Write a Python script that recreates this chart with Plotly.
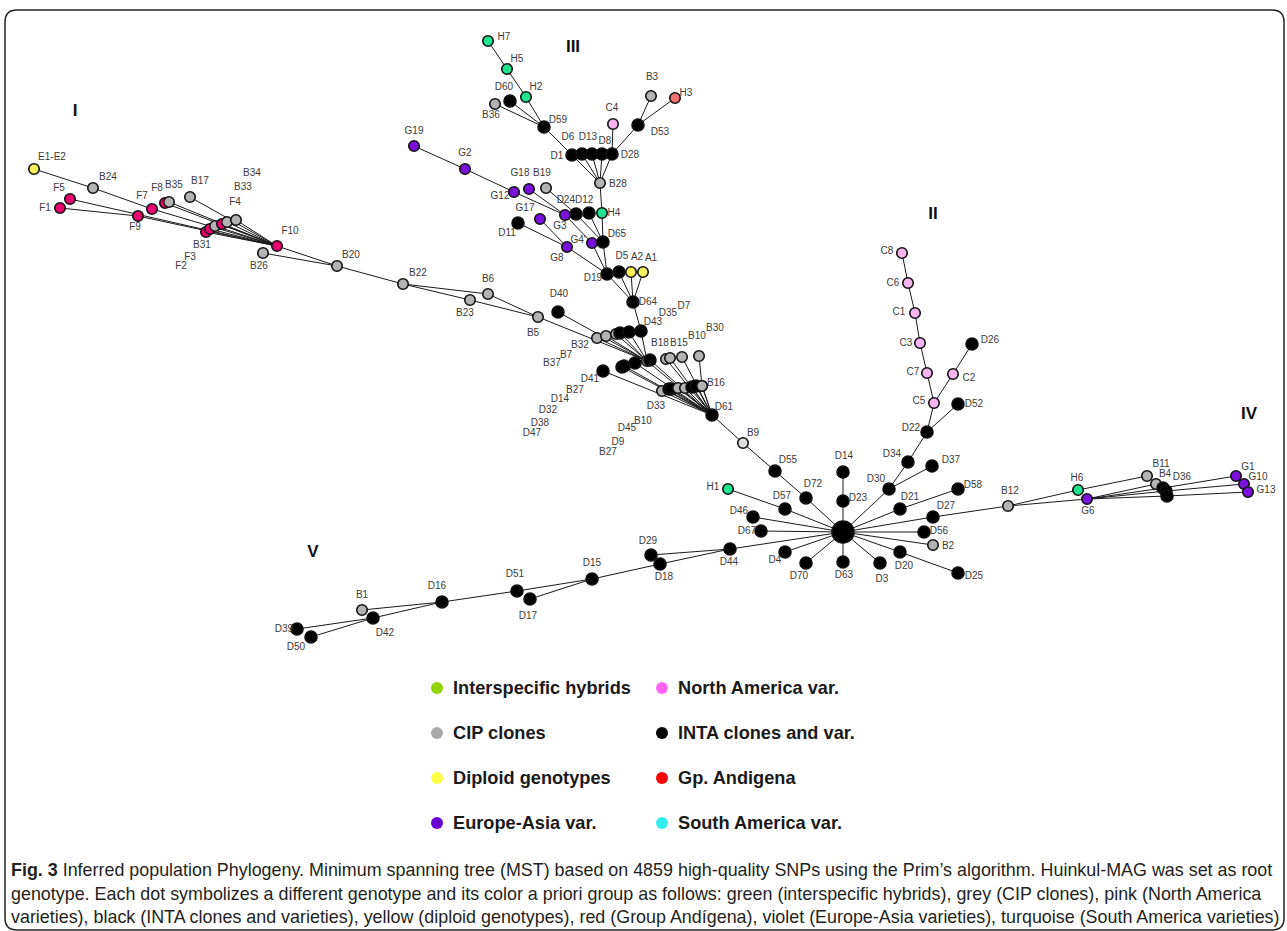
import plotly.graph_objects as go

# ---- genotype nodes: id, layout position (tree layout units), a priori group ----
node_id = [
    # group I
    "E1-E2", "B24", "F5", "F1", "F9", "F7", "F8", "B35", "B17",
    "F2", "F3", "B31", "F4", "B33", "B34", "F10", "B26",
    "B20", "B22", "B23", "B6", "B5", "D40",
    # central trunk
    "B32", "B7", "B37", "D7", "D35", "D43", "B18", "B18b",
    "B15", "B15b", "B10", "B30", "D41", "D14b", "D32", "D38",
    "D33", "D47", "D45", "D9", "B27", "B10b", "D2", "B27b", "B16",
    "D61", "B9", "D55", "D72",
    # root and spokes
    "Huinkul-MAG", "D14", "D23", "H1", "D57", "D46", "D67", "D44", "D4", "D70",
    "D63", "D3", "D20", "D25", "B2", "D56", "D27", "D21", "D58", "D30",
    "D37", "D34", "D22", "D52",
    # group II
    "C5", "C7", "C3", "C1", "C6", "C8", "C2", "D26",
    # group IV
    "B12", "H6", "G6", "B11", "B4", "D36", "D36b", "D36c", "G1", "G10", "G13",
    # group V
    "D29", "D18", "D15", "D51", "D17", "D16", "B1", "D42", "D39", "D50",
    # group III
    "H7", "H5", "H2", "D60", "B36", "D59", "G19", "G2", "G18", "B19", "G12",
    "D1", "D6", "D13", "D8", "D28", "C4", "B3", "H3", "D53", "B28",
    "G3", "D24", "D12", "H4", "G17", "D11", "G4", "D65", "G8",
    "D19", "D5", "A2", "A1", "D64",
]
node_x = [
    34, 93, 70, 60, 138, 152, 165, 169, 190,
    206, 210, 215, 222, 227, 236, 277, 263,
    337, 403, 470, 488, 538, 558,
    597, 606, 616, 620, 629, 641, 647, 650,
    666, 670, 682, 699, 603, 622, 624, 635,
    662, 669, 671, 678, 685, 692, 696, 702, 702,
    712, 743, 775, 806,
    843, 843, 843, 728, 785, 753, 761, 730, 785, 806,
    843, 880, 900, 958, 933, 924, 933, 900, 958, 889,
    932, 908, 927, 958,
    934, 927, 920, 915, 908, 902, 953, 972,
    1008, 1078, 1087, 1147, 1156, 1163, 1166, 1167, 1236, 1244, 1248,
    651, 660, 592, 517, 530, 442, 362, 373, 297, 311,
    488, 507, 526, 510, 495, 544, 414, 465, 529, 546, 514,
    572, 582, 592, 602, 612, 613, 651, 675, 638, 600,
    565, 576, 589, 602, 540, 518, 592, 603, 567,
    607, 619, 631, 643, 633,
]
node_y = [
    169, 188, 199, 208, 216, 209, 203, 202, 197,
    232, 229, 226, 224, 222, 220, 246, 253,
    266, 284, 300, 294, 317, 312,
    338, 336, 334, 333, 332, 331, 361, 360,
    359, 358, 357, 356, 371, 367, 366, 363,
    391, 389, 389, 388, 388, 387, 386, 386, 386,
    415, 443, 471, 498,
    532, 472, 501, 489, 509, 517, 531, 549, 552, 563,
    562, 563, 552, 573, 545, 532, 517, 509, 489, 489,
    466, 462, 432, 404,
    403, 373, 343, 313, 283, 253, 374, 344,
    506, 490, 499, 476, 484, 488, 491, 496, 476, 484, 492,
    555, 564, 579, 591, 599, 602, 610, 618, 629, 637,
    41, 69, 97, 101, 104, 127, 146, 169, 189, 188, 192,
    155, 154, 154, 154, 154, 124, 96, 98, 125, 183,
    215, 214, 213, 213, 219, 223, 243, 242, 247,
    274, 272, 272, 272, 302,
]
node_group = [
    "Diploid", "CIP", "Andigena", "Andigena", "Andigena", "Andigena", "Andigena", "CIP", "CIP",
    "Andigena", "Andigena", "CIP", "Andigena", "CIP", "CIP", "Andigena", "CIP",
    "CIP", "CIP", "CIP", "CIP", "CIP", "INTA",
    "CIP", "CIP", "CIP", "INTA", "INTA", "INTA", "CIP", "INTA",
    "CIP", "CIP", "CIP", "CIP", "INTA", "INTA", "INTA", "INTA",
    "CIP", "INTA", "INTA", "CIP", "CIP", "INTA", "INTA", "CIP", "CIP",
    "INTA", "CIPlight", "INTA", "INTA",
    "Root", "INTA", "INTA", "Hybrid", "INTA", "INTA", "INTA", "INTA", "INTA", "INTA",
    "INTA", "INTA", "INTA", "INTA", "CIP", "INTA", "INTA", "INTA", "INTA", "INTA",
    "INTA", "INTA", "INTA", "INTA",
    "NorthAm", "NorthAm", "NorthAm", "NorthAm", "NorthAm", "NorthAm", "NorthAm", "INTA",
    "CIP", "Hybrid", "EuropeAsia", "CIP", "CIP", "INTA", "INTA", "INTA", "EuropeAsia", "EuropeAsia", "EuropeAsia",
    "INTA", "INTA", "INTA", "INTA", "INTA", "INTA", "CIP", "INTA", "INTA", "INTA",
    "Hybrid", "Hybrid", "Hybrid", "INTA", "CIP", "INTA", "EuropeAsia", "EuropeAsia", "EuropeAsia", "CIP", "EuropeAsia",
    "INTA", "INTA", "INTA", "INTA", "INTA", "NorthAm", "CIP", "Salmon", "INTA", "CIP",
    "EuropeAsia", "INTA", "INTA", "Hybrid", "EuropeAsia", "INTA", "EuropeAsia", "INTA", "EuropeAsia",
    "INTA", "INTA", "Diploid", "Diploid", "INTA",
]

# ---- MST edges ----
edges = [
    ("E1-E2", "B24"), ("B24", "F7"), ("F7", "F10"), ("F5", "F10"), ("F1", "F9"), ("F9", "F10"),
    ("F8", "F10"), ("B35", "F10"), ("B17", "F10"), ("F2", "F10"), ("F3", "F10"), ("B31", "F10"),
    ("F4", "F10"), ("B33", "F10"), ("B34", "F10"), ("F10", "B20"), ("B26", "B20"),
    ("B20", "B22"), ("B22", "B23"), ("B22", "B6"), ("B23", "B5"), ("B6", "B5"), ("B5", "B18"),
    ("B32", "B18"), ("B7", "B18"), ("B37", "B18"), ("D7", "B18"), ("D35", "B18"), ("D43", "B18"),
    ("D40", "B18"), ("D64", "D43"),
    ("B18", "D61"), ("B18b", "D61"), ("B15", "D61"), ("B15b", "D61"), ("B10", "D61"), ("B30", "B16"),
    ("D41", "D61"), ("D14b", "D61"), ("D32", "D61"), ("D38", "D61"),
    ("D33", "D61"), ("D47", "D61"), ("D45", "D61"), ("D9", "D61"), ("B27", "D61"),
    ("B10b", "D61"), ("D2", "D61"), ("B27b", "D61"), ("B16", "D61"),
    ("D61", "B9"), ("B9", "D55"), ("D55", "D72"), ("D72", "Huinkul-MAG"),
    ("D14", "D23"), ("D23", "Huinkul-MAG"), ("H1", "D57"), ("D57", "Huinkul-MAG"),
    ("D46", "Huinkul-MAG"), ("D67", "Huinkul-MAG"), ("D44", "Huinkul-MAG"), ("D4", "Huinkul-MAG"),
    ("D70", "Huinkul-MAG"), ("D63", "Huinkul-MAG"), ("D3", "Huinkul-MAG"), ("D20", "Huinkul-MAG"),
    ("D20", "D25"), ("B2", "Huinkul-MAG"), ("D56", "Huinkul-MAG"), ("D27", "Huinkul-MAG"),
    ("D27", "B12"), ("D21", "Huinkul-MAG"), ("D21", "D58"), ("D30", "Huinkul-MAG"),
    ("D30", "D34"), ("D30", "D37"), ("D34", "D22"), ("D22", "D52"), ("D22", "C5"),
    ("C5", "C7"), ("C7", "C3"), ("C3", "C1"), ("C1", "C6"), ("C6", "C8"), ("C5", "C2"), ("C2", "D26"),
    ("B12", "H6"), ("B12", "G6"), ("H6", "B11"), ("G6", "B4"), ("G6", "D36"), ("G6", "D36b"),
    ("G6", "D36c"), ("D36", "G1"), ("D36b", "G10"), ("D36c", "G13"),
    ("D44", "D29"), ("D44", "D18"), ("D18", "D15"), ("D15", "D51"), ("D15", "D17"),
    ("D51", "D16"), ("D16", "B1"), ("D16", "D42"), ("D42", "D39"), ("D42", "D50"),
    ("D64", "D19"), ("D64", "D5"), ("D64", "A2"), ("D64", "A1"),
    ("D19", "G4"), ("D19", "D65"), ("D19", "G8"), ("G4", "G3"), ("G3", "G12"), ("G12", "G2"),
    ("G2", "G19"), ("G3", "G18"), ("B19", "D24"), ("D24", "D65"), ("D12", "D65"), ("H4", "D65"),
    ("H4", "B28"), ("G8", "D11"), ("G8", "G17"),
    ("B28", "D1"), ("B28", "D6"), ("B28", "D13"), ("B28", "D8"), ("B28", "D28"),
    ("D1", "D59"), ("D59", "H2"), ("H2", "H5"), ("H5", "H7"), ("D59", "D60"), ("D59", "B36"),
    ("D28", "C4"), ("D28", "D53"), ("D53", "B3"), ("D53", "H3"),
]

# ---- node labels (text, anchor position in layout units) ----
label_text = [
    "E1-E2", "B24", "F5", "F1", "F9", "F7", "F8", "B35", "B17", "B34", "B33", "F4",
    "B31", "F3", "F2", "F10", "B26", "B20", "B22", "B23", "B6", "B5", "D40",
    "B32", "B7", "B37", "D41", "B27", "D14", "D32", "D38", "D47",
    "D43", "D35", "D7", "B18", "B15", "B10", "B30", "B16", "D33", "D61",
    "D45", "B10", "D9", "B27", "B9", "D55", "D72",
    "D14", "D23", "H1", "D57", "D46", "D67", "D44", "D4", "D70", "D63", "D3",
    "D20", "D25", "B2", "D56", "D27", "D21", "D58", "D30", "D37", "D34", "D22", "D52",
    "C8", "C6", "C1", "C3", "C7", "C5", "C2", "D26",
    "B12", "H6", "G6", "B11", "B4", "D36", "G1", "G10", "G13",
    "D29", "D18", "D15", "D51", "D17", "D16", "B1", "D42", "D39", "D50",
    "H7", "H5", "H2", "D60", "B36", "D59", "G19", "G2", "G18", "B19", "G12",
    "D1", "D6", "D13", "D8", "D28", "C4", "B3", "H3", "D53", "B28",
    "D24D12", "H4", "G17", "G3", "D11", "G4'", "D65", "G8", "D19", "D5", "A2", "A1", "D64",
]
label_x = [
    52, 108, 59, 45, 135, 142, 157, 174, 200, 252, 243, 235,
    202, 190, 181, 290, 259, 351, 418, 465, 488, 533, 559,
    580, 566, 552, 590, 575, 560, 548, 540, 532,
    653, 668, 684, 660, 679, 697, 715, 716, 656, 724,
    627, 643, 618, 608, 753, 788, 813,
    844, 858, 713, 782, 739, 747, 729, 775, 799, 844, 882,
    904, 974, 948, 939, 946, 910, 973, 876, 951, 892, 911, 974,
    887, 893, 899, 906, 913, 919, 969, 990,
    1010, 1077, 1088, 1161, 1165, 1182, 1248, 1258, 1266,
    648, 664, 592, 515, 528, 437, 362, 385, 284, 296,
    504, 517, 536, 504, 491, 558, 414, 465, 520, 542, 500,
    557, 568, 588, 605, 630, 612, 652, 686, 660, 618,
    575, 614, 525, 560, 507, 578, 617, 557, 593, 622, 637, 651, 648,
]
label_y = [
    157, 177, 188, 208, 227, 196, 188, 185, 181, 173, 187, 202,
    245, 257, 266, 231, 266, 255, 273, 313, 279, 333, 294,
    345, 355, 363, 379, 390, 399, 410, 423, 433,
    322, 313, 306, 343, 343, 336, 328, 383, 406, 407,
    428, 421, 442, 452, 433, 460, 484,
    456, 498, 487, 496, 511, 531, 562, 560, 576, 575, 579,
    566, 576, 546, 531, 506, 497, 485, 479, 460, 454, 428, 404,
    251, 283, 312, 343, 372, 401, 378, 340,
    491, 478, 511, 464, 474, 477, 467, 477, 490,
    541, 577, 563, 574, 616, 586, 595, 633, 629, 647,
    37, 59, 87, 87, 115, 120, 131, 153, 173, 173, 196,
    156, 137, 137, 141, 155, 108, 77, 93, 132, 184,
    200, 213, 208, 226, 233, 240, 234, 258, 278, 256, 257, 258, 302,
]

# ---- cluster numerals ----
cluster_text = ["I", "II", "III", "IV", "V"]
cluster_x = [75, 933, 573, 1249, 313]
cluster_y = [112, 215, 48, 415, 553]

# ---- legend ----
legend_text = [
    "Interspecific hybrids", "North America var.",
    "CIP clones", "INTA clones and var.",
    "Diploid genotypes", "Gp. Andigena",
    "Europe-Asia var.", "South America var.",
]
legend_color = [
    "#8fd400", "#ff66f2",
    "#aaaaaa", "#000000",
    "#ffff44", "#ff0000",
    "#6a00d0", "#33eeee",
]

caption_lines = [
    "<b>Fig. 3</b> Inferred population Phylogeny. Minimum spanning tree (MST) based on 4859 high-quality SNPs using the Prim\u2019s algorithm. Huinkul-MAG was set as root",
    "genotype. Each dot symbolizes a different genotype and its color a priori group as follows: green (interspecific hybrids), grey (CIP clones), pink (North America",
    "varieties), black (INTA clones and varieties), yellow (diploid genotypes), red (Group And\u00edgena), violet (Europe-Asia varieties), turquoise (South America varieties)",
]

# ---- styling ----
group_fill = {
    "Hybrid": "#1fe38f", "CIP": "#b3b3b3", "CIPlight": "#dedede", "NorthAm": "#f6b4f0",
    "INTA": "#000000", "Root": "#000000", "Diploid": "#f7f05c", "Andigena": "#e8006e",
    "EuropeAsia": "#7a10dc", "Salmon": "#f27272",
}
group_size = {"INTA": 12, "Root": 22}

pos = {n: (x, y) for n, x, y in zip(node_id, node_x, node_y)}

W, H = 1287, 931
fig = go.Figure()

ex, ey = [], []
for a, b in edges:
    ex += [pos[a][0], pos[b][0], None]
    ey += [pos[a][1], pos[b][1], None]
fig.add_trace(go.Scatter(x=ex, y=ey, mode="lines", line=dict(color="#1a1a1a", width=1),
                         hoverinfo="skip", showlegend=False))

fig.add_trace(go.Scatter(
    x=node_x, y=node_y, mode="markers", text=node_id, hoverinfo="text", showlegend=False,
    marker=dict(color=[group_fill[g] for g in node_group],
                size=[group_size.get(g, 10.5) for g in node_group],
                opacity=1,
                line=dict(color="#111111", width=1.6)),
))

fig.add_trace(go.Scatter(
    x=label_x, y=label_y, mode="text", text=label_text, hoverinfo="skip", showlegend=False,
    textfont=dict(family="Liberation Sans, Arial, sans-serif", size=10, color="#3a3a3a"),
))

fig.add_trace(go.Scatter(
    x=cluster_x, y=cluster_y, mode="text", text=[f"<b>{t}</b>" for t in cluster_text],
    hoverinfo="skip", showlegend=False,
    textfont=dict(family="Liberation Sans, Arial, sans-serif", size=17, color="#111111"),
))

# legend block: two columns, four rows
leg_col_x = [437, 662]
leg_row_y = [688, 733, 778, 823]
lx = [leg_col_x[i % 2] for i in range(len(legend_text))]
ly = [leg_row_y[i // 2] for i in range(len(legend_text))]
fig.add_trace(go.Scatter(x=lx, y=ly, mode="markers", hoverinfo="skip", showlegend=False,
                         marker=dict(color=legend_color, size=12, opacity=1, line=dict(width=0))))
for t, x, y in zip(legend_text, lx, ly):
    fig.add_annotation(x=x + 14, y=y, text=f"<b>{t}</b>", showarrow=False, xanchor="left",
                       yanchor="middle",
                       font=dict(family="Liberation Sans, Arial, sans-serif", size=18.2, color="#1a1a1a"))

for i, line in enumerate(caption_lines):
    fig.add_annotation(x=9, y=870 + 23.5 * i, text=line, showarrow=False, xanchor="left",
                       yanchor="middle",
                       font=dict(family="Liberation Sans, Arial, sans-serif", size=17.9, color="#231f20"))

# rounded frame around figure and caption
frame = ("M 17,10 L 1272,10 Q 1284,10 1284,22 L 1284,918 Q 1284,930 1272,930 "
         "L 17,930 Q 5,930 5,918 L 5,22 Q 5,10 17,10 Z")
fig.add_shape(type="path", path=frame, xref="x", yref="y",
              line=dict(color="#222222", width=1.5), layer="below")

fig.update_layout(
    width=W, height=H, margin=dict(l=0, r=0, t=0, b=0),
    paper_bgcolor="white", plot_bgcolor="white",
    xaxis=dict(range=[0, W], visible=False, fixedrange=True),
    yaxis=dict(range=[H, 0], visible=False, fixedrange=True),
)

fig.write_html("out.html")
